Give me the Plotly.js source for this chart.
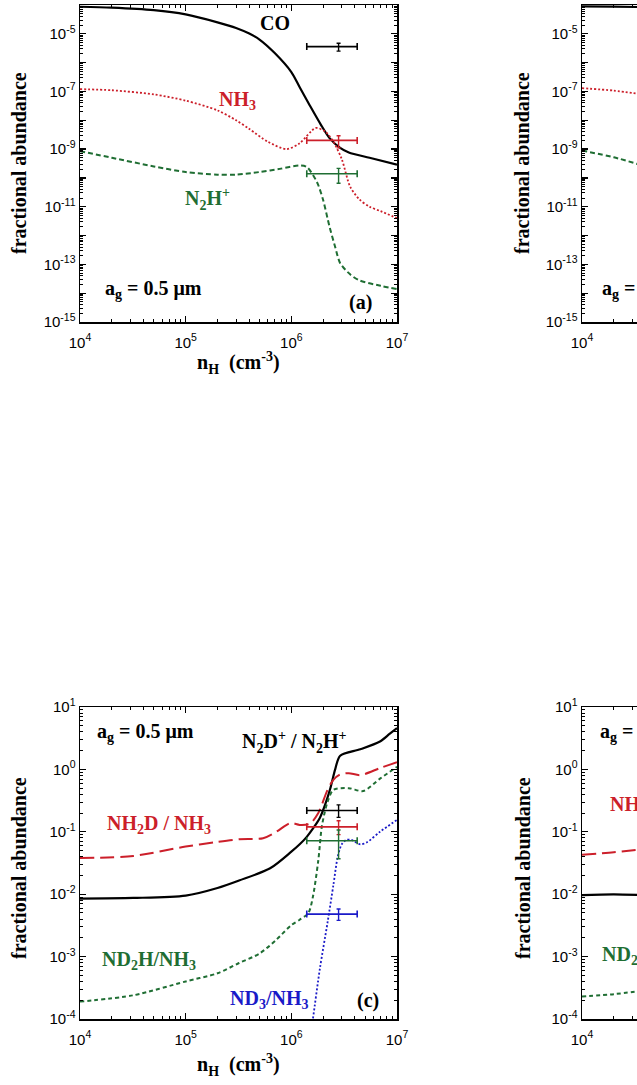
<!DOCTYPE html>
<html>
<head>
<meta charset="utf-8">
<script src="https://cdn.plot.ly/plotly-3.0.1.min.js"></script>
<style>
html,body{margin:0;padding:0;background:#fff;overflow:hidden;}
#chart{width:637px;height:1085px;}
</style>
</head>
<body>
<div id="chart"></div>
<script>
// ---------------- DATA ----------------
// Panel (a): fractional abundances vs n_H, a_g = 0.5 micron
const nH_CO_a   = [1e4, 2e4, 5e4, 1e5, 2e5, 3e5, 4e5, 5e5, 7e5, 1e6, 1.2e6, 1.5e6, 1.9e6, 2.3e6, 2.9e6, 3.5e6, 5.5e6, 1e7];
const CO_a      = [8.7e-5, 8.1e-5, 6.6e-5, 4.7e-5, 2.5e-5, 1.6e-5, 1.02e-5, 6.3e-6, 2.1e-6, 4.7e-7, 1.4e-7, 3.2e-8, 7.1e-9, 2.4e-9, 1.1e-9, 7.6e-10, 5.0e-10, 2.9e-10];
const nH_NH3_a  = [1e4, 2e4, 5e4, 1e5, 2e5, 3e5, 4e5, 6e5, 9e5, 1.2e6, 1.7e6, 2.1e6, 2.5e6, 3e6, 3.6e6, 4.4e6, 5.5e6, 7e6, 1e7];
const NH3_a     = [1.2e-7, 1.1e-7, 7.9e-8, 4.8e-8, 2.2e-8, 1.0e-8, 5.0e-9, 1.8e-9, 1.0e-9, 1.6e-9, 5.4e-9, 4.0e-9, 1.8e-9, 4.5e-10, 5.0e-11, 1.8e-11, 1.0e-11, 7.0e-12, 4.0e-12];
const nH_N2Hp_a = [1e4, 2e4, 5e4, 1e5, 2e5, 3e5, 5e5, 8e5, 1.2e6, 1.4e6, 1.75e6, 2e6, 2.3e6, 2.6e6, 2.9e6, 3.6e6, 4.4e6, 7e6, 1e7];
const N2Hp_a    = [8.5e-10, 5.0e-10, 2.5e-10, 1.6e-10, 1.3e-10, 1.3e-10, 1.6e-10, 2.1e-10, 2.7e-10, 2.4e-10, 7.1e-11, 1.7e-11, 2.0e-12, 4.0e-13, 1.1e-13, 4.5e-14, 2.8e-14, 1.8e-14, 1.4e-14];

// Panel (b): only the left edge is visible
const nH_b      = [1e4, 2e4, 3.5e4];
const CO_b      = [9.0e-5, 8.8e-5, 8.5e-5];
const NH3_b     = [1.3e-7, 1.07e-7, 8.2e-8];
const N2Hp_b    = [8.9e-10, 5.2e-10, 2.9e-10];

// Observations, x = n_H with error
const nH_obs      = [2.8e6];
const nH_obs_err  = [1.4e6];
const obsCO_a     = [3.6e-6];   const obsCO_a_err   = [1.1e-6];
const obsNH3_a    = [2.0e-9];   const obsNH3_a_err  = [0.9e-9];
const obsN2Hp_a   = [1.4e-10];  const obsN2Hp_a_err = [0.75e-10];

// Panel (c): abundance ratios, a_g = 0.5 micron
const nH_N2D_c  = [1e4, 3.2e4, 1e5, 2e5, 3.2e5, 6.3e5, 1e6, 1.2e6, 1.4e6, 1.6e6, 1.86e6, 2.1e6, 2.34e6, 2.6e6, 2.9e6, 4.5e6, 6.9e6, 8.5e6, 1e7];
const N2D_c     = [8.5e-3, 8.7e-3, 9.5e-3, 1.26e-2, 1.66e-2, 2.6e-2, 4.8e-2, 6.3e-2, 8.3e-2, 0.112, 0.166, 0.28, 0.5, 1.0, 1.66, 2.1, 2.8, 3.7, 4.6];
const nH_NH2D_c = [1e4, 3.2e4, 1e5, 2e5, 3.2e5, 5.4e5, 7.2e5, 9.8e5, 1.2e6, 1.5e6, 1.8e6, 2.2e6, 2.5e6, 2.9e6, 3.5e6, 4.5e6, 6.9e6, 1e7];
const NH2D_c    = [0.038, 0.041, 0.058, 0.069, 0.076, 0.079, 0.10, 0.138, 0.129, 0.135, 0.2, 0.47, 0.68, 0.83, 0.87, 0.81, 1.05, 1.3];
const nH_ND2H_c = [1e4, 3.2e4, 1e5, 2e5, 3.2e5, 5e5, 7.2e5, 1e6, 1.2e6, 1.45e6, 1.6e6, 1.8e6, 1.95e6, 2.2e6, 2.5e6, 3.5e6, 4.8e6, 6.9e6, 1e7];
const ND2H_c    = [1.9e-4, 2.4e-4, 4.0e-4, 5.4e-4, 7.9e-4, 1.12e-3, 1.86e-3, 3.2e-3, 3.9e-3, 5.0e-3, 9.1e-3, 3.5e-2, 0.126, 0.30, 0.47, 0.50, 0.45, 0.71, 1.1];
const nH_ND3_c  = [1.45e6, 1.6e6, 1.86e6, 2.2e6, 2.5e6, 2.75e6, 3.0e6, 3.3e6, 3.7e6, 4.5e6, 5.2e6, 6.9e6, 1e7];
const ND3_c     = [3.2e-5, 1.0e-4, 6.3e-4, 3.5e-3, 1.4e-2, 4.0e-2, 6.3e-2, 7.4e-2, 7.4e-2, 6.3e-2, 6.8e-2, 0.10, 0.155];

// Panel (d): only the left edge is visible
const nH_d      = [1e4, 2e4, 3.5e4];
const N2D_d     = [9.7e-3, 9.9e-3, 9.7e-3];
const NH2D_d    = [0.043, 0.047, 0.052];
const ND2H_d    = [2.3e-4, 2.5e-4, 2.8e-4];

const obsN2D_c  = [0.22];   const obsN2D_c_err  = [0.05];
const obsNH2D_c = [0.12];   const obsNH2D_c_err = [0.03];
const obsND2H_c = [0.072];  const obsND2H_c_err = [0.035];
const obsND3_c  = [0.0048]; const obsND3_c_err  = [0.001];

// Tick labels
const xTickVals  = [1e4, 1e5, 1e6, 1e7];
const xTickText  = ['10<sup>4</sup>', '10<sup>5</sup>', '10<sup>6</sup>', '10<sup>7</sup>'];
const yExpTop    = [-15, -14, -13, -12, -11, -10, -9, -8, -7, -6, -5, -4];
const yLabTop    = ['10<sup>-15</sup>', ' ', '10<sup>-13</sup>', ' ', '10<sup>-11</sup>', ' ', '10<sup>-9</sup>', ' ', '10<sup>-7</sup>', ' ', '10<sup>-5</sup>', ' '];
const yExpBot    = [-4, -3, -2, -1, 0, 1];
const yLabBot    = ['10<sup>-4</sup>', '10<sup>-3</sup>', '10<sup>-2</sup>', '10<sup>-1</sup>', '10<sup>0</sup>', '10<sup>1</sup>'];

// ---------------- STYLE ----------------
const RED = '#cc1f2a', GREEN = '#1f6e33', BLUE = '#1a1ac8', BLACK = '#000000';
const W = 637, H = 1085;
const SERIF = 'Liberation Serif, Times New Roman, serif';
const SANS = 'Liberation Sans, Arial, Helvetica, sans-serif';

function minorVals(e0, e1) {
  const v = [];
  for (let e = e0; e < e1; e++) for (let k = 2; k <= 9; k++) v.push(k * Math.pow(10, e));
  return v;
}
function axisBase(extra) {
  return Object.assign({
    type: 'log', showline: true, linecolor: '#000', linewidth: 1.5,
    ticks: 'inside', ticklen: 6, tickwidth: 1.2, tickcolor: '#000',
    showgrid: false, zeroline: false, automargin: false, fixedrange: true,
    tickfont: {family: SANS, size: 15, color: '#000'},
    tickmode: 'array'
  }, extra);
}

function line(x, y, color, dash, width, xa, ya) {
  return {x: x, y: y, type: 'scatter', mode: 'lines', xaxis: xa, yaxis: ya,
    line: {color: color, dash: dash, width: width, shape: 'spline', smoothing: 0.8},
    showlegend: false, hoverinfo: 'skip'};
}
function obs(x, xerr, y, yerr, color, xa, ya) {
  return {x: x, y: y, type: 'scatter', mode: 'markers', xaxis: xa, yaxis: ya,
    marker: {size: 1, color: color},
    error_x: {type: 'data', array: xerr, color: color, thickness: 1.6, width: 3.5},
    error_y: {type: 'data', array: yerr, color: color, thickness: 1.4, width: 2},
    showlegend: false, hoverinfo: 'skip'};
}

const DOT = '2px,2px', SDASH = '5px,3px', LDASH = '14px,6px';

const traces = [
  line(nH_CO_a, CO_a, BLACK, 'solid', 2.2, 'x', 'y'),
  line(nH_NH3_a, NH3_a, RED, DOT, 1.8, 'x', 'y'),
  line(nH_N2Hp_a, N2Hp_a, GREEN, SDASH, 2, 'x', 'y'),
  obs(nH_obs, nH_obs_err, obsCO_a, obsCO_a_err, BLACK, 'x', 'y'),
  obs(nH_obs, nH_obs_err, obsNH3_a, obsNH3_a_err, RED, 'x', 'y'),
  obs(nH_obs, nH_obs_err, obsN2Hp_a, obsN2Hp_a_err, GREEN, 'x', 'y'),

  line(nH_b, CO_b, BLACK, 'solid', 2.2, 'x2', 'y2'),
  line(nH_b, NH3_b, RED, DOT, 1.8, 'x2', 'y2'),
  line(nH_b, N2Hp_b, GREEN, SDASH, 2, 'x2', 'y2'),

  line(nH_N2D_c, N2D_c, BLACK, 'solid', 2.2, 'x3', 'y3'),
  line(nH_NH2D_c, NH2D_c, RED, LDASH, 2, 'x3', 'y3'),
  line(nH_ND2H_c, ND2H_c, GREEN, '4px,3px', 2, 'x3', 'y3'),
  line(nH_ND3_c, ND3_c, BLUE, DOT, 1.8, 'x3', 'y3'),
  obs(nH_obs, nH_obs_err, obsN2D_c, obsN2D_c_err, BLACK, 'x3', 'y3'),
  obs(nH_obs, nH_obs_err, obsNH2D_c, obsNH2D_c_err, RED, 'x3', 'y3'),
  obs(nH_obs, nH_obs_err, obsND2H_c, obsND2H_c_err, GREEN, 'x3', 'y3'),
  obs(nH_obs, nH_obs_err, obsND3_c, obsND3_c_err, BLUE, 'x3', 'y3'),

  line(nH_d, N2D_d, BLACK, 'solid', 2.2, 'x4', 'y4'),
  line(nH_d, NH2D_d, RED, LDASH, 2, 'x4', 'y4'),
  line(nH_d, ND2H_d, GREEN, '4px,3px', 2, 'x4', 'y4')
];

// ---------------- LAYOUT ----------------
const xL = [80 / W, 397 / W];
const xR = [582 / W, 1];
const yT = [1 - 322 / H, 1 - 5 / H];
const yB = [1 - 1019 / H, 1 - 707 / H];
const xRangeL = [4, 7];
const xRangeR = [4, 4 + 55 / (317 / 3)];

const xMinorL = minorVals(4, 7);
const yTopVals = yExpTop.map(e => Math.pow(10, e));
const yBotVals = yExpBot.map(e => Math.pow(10, e));
const yMinorTop = minorVals(-15, -4);
const yMinorBot = minorVals(-4, 1);
const minorStyle = {ticks: 'inside', ticklen: 3, tickwidth: 1, tickcolor: '#000', showgrid: false, tickmode: 'array'};

function xa(domain, range, anchor, mirror) {
  return axisBase({domain: domain, range: range, anchor: anchor, mirror: mirror,
    tickvals: xTickVals, ticktext: xTickText, ticklabelstandoff: 6,
    minor: Object.assign({tickvals: xMinorL}, minorStyle)});
}
function ya(domain, range, anchor, vals, labs, minor, mirror) {
  return axisBase({domain: domain, range: range, anchor: anchor, mirror: mirror,
    tickvals: vals, ticktext: labs,
    minor: Object.assign({tickvals: minor}, minorStyle)});
}

function P(px, py) { return {x: px / W, y: 1 - py / H}; }
function ann(px, py, text, color, opts) {
  const p = P(px, py);
  return Object.assign({xref: 'paper', yref: 'paper', x: p.x, y: p.y, text: '<b>' + text + '</b>',
    showarrow: false, xanchor: 'left', yanchor: 'middle',
    font: {family: SERIF, size: 20, color: color}}, opts || {});
}
const ytitle = 'fractional abundance';
const xtitle = 'n<sub>H</sub>  (cm<sup>-3</sup>)';

const annotations = [
  // axis titles
  ann(19, 163, ytitle, BLACK, {textangle: -90, xanchor: 'center'}),
  ann(522, 163, ytitle, BLACK, {textangle: -90, xanchor: 'center'}),
  ann(19, 868, ytitle, BLACK, {textangle: -90, xanchor: 'center'}),
  ann(523, 868, ytitle, BLACK, {textangle: -90, xanchor: 'center'}),
  ann(238, 363, xtitle, BLACK, {xanchor: 'center'}),
  ann(238, 1065, xtitle, BLACK, {xanchor: 'center'}),
  // panel (a)
  ann(275, 23, 'CO', BLACK, {xanchor: 'center'}),
  ann(217, 101, 'NH<sub>3</sub>', RED),
  ann(183, 199, 'N<sub>2</sub>H<sup>+</sup>', GREEN),
  ann(103, 290, 'a<sub>g</sub> = 0.5 μm', BLACK),
  ann(347, 303, '(a)', BLACK),
  // panel (b)
  ann(600, 290, 'a<sub>g</sub> = 0.1 μm', BLACK),
  // panel (c)
  ann(95, 732, 'a<sub>g</sub> = 0.5 μm', BLACK),
  ann(240, 742, 'N<sub>2</sub>D<sup>+</sup> / N<sub>2</sub>H<sup>+</sup>', BLACK),
  ann(105, 824, 'NH<sub>2</sub>D / NH<sub>3</sub>', RED),
  ann(100, 960, 'ND<sub>2</sub>H/NH<sub>3</sub>', GREEN),
  ann(228, 999, 'ND<sub>3</sub>/NH<sub>3</sub>', BLUE),
  ann(355, 1000, '(c)', BLACK),
  // panel (d)
  ann(598, 732, 'a<sub>g</sub> = 0.1 μm', BLACK),
  ann(608, 805, 'NH<sub>2</sub>D / NH<sub>3</sub>', RED),
  ann(600, 955, 'ND<sub>2</sub>H/NH<sub>3</sub>', GREEN)
];

const layout = {
  width: W, height: H,
  margin: {l: 0, r: 0, t: 0, b: 0, pad: 0},
  paper_bgcolor: '#fff', plot_bgcolor: '#fff',
  showlegend: false,
  xaxis:  xa(xL, xRangeL, 'y', 'ticks'),
  yaxis:  ya(yT, [-15, -4], 'x', yTopVals, yLabTop, yMinorTop, 'ticks'),
  xaxis2: xa(xR, xRangeR, 'y2', 'ticks'),
  yaxis2: ya(yT, [-15, -4], 'x2', yTopVals, yLabTop, yMinorTop, false),
  xaxis3: xa(xL, xRangeL, 'y3', 'ticks'),
  yaxis3: ya(yB, [-4, 1], 'x3', yBotVals, yLabBot, yMinorBot, 'ticks'),
  xaxis4: xa(xR, xRangeR, 'y4', 'ticks'),
  yaxis4: ya(yB, [-4, 1], 'x4', yBotVals, yLabBot, yMinorBot, false),
  annotations: annotations
};

Plotly.newPlot('chart', traces, layout, {staticPlot: true, displayModeBar: false});
</script>
</body>
</html>
